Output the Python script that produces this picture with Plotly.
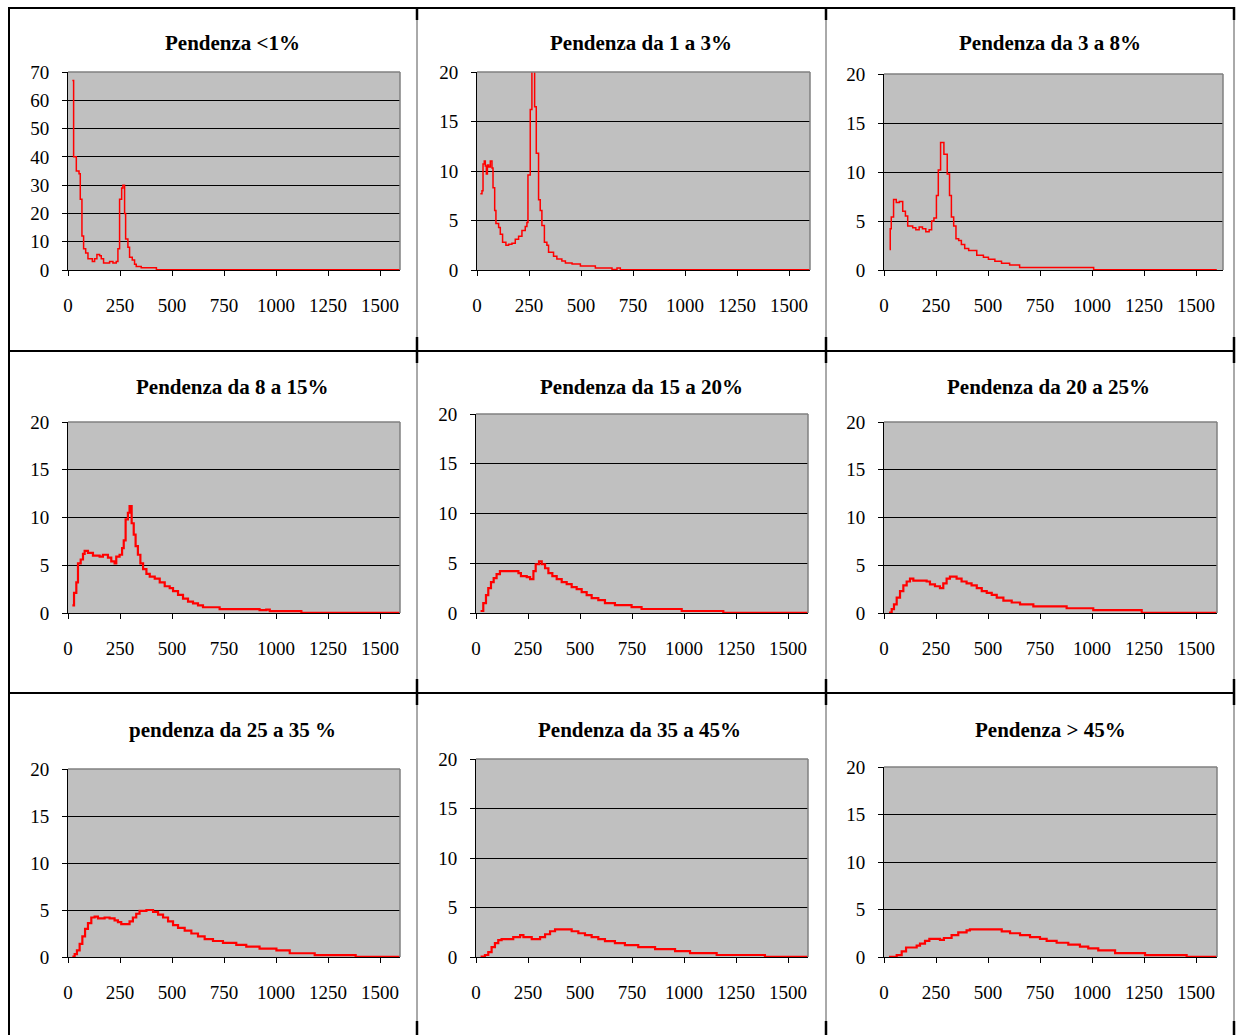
import plotly.graph_objects as go

# ---------------- data ----------------
titles = ["Pendenza <1%", "Pendenza da 1 a 3%", "Pendenza da 3 a 8%",
          "Pendenza da 8 a 15%", "Pendenza da 15 a 20%", "Pendenza da 20 a 25%",
          "pendenza da 25 a 35 %", "Pendenza da 35 a 45%", "Pendenza > 45%"]

x_ticks = [0, 250, 500, 750, 1000, 1250, 1500]

p1_x = [21, 27, 40, 53, 59, 67, 75, 85, 96, 117, 128, 139, 152, 160, 171, 192, 200, 216, 232, 240,
        248, 258, 264, 272, 277, 288, 296, 309, 320, 328, 352, 425, 1600]
p1_y = [67, 40, 35, 34, 25, 12, 7.5, 6, 4, 3, 4, 5.5, 5, 4, 2.5, 2.5, 3, 2.5, 3, 7.5,
        25, 29, 30, 20, 11, 8, 4.5, 3.5, 2, 1.2, 0.8, 0.1, 0.1]

p2_x = [16, 24, 29, 35, 40, 45, 50, 56, 64, 72, 77, 85, 91, 104, 112, 123, 139, 152, 168, 184,
        200, 216, 232, 240, 245, 256, 264, 277, 285, 296, 304, 312, 324, 336, 344, 368, 384, 408,
        425, 457, 497, 569, 649, 673, 689, 1600]
p2_y = [7.7, 8, 10.7, 11, 10.5, 9.7, 10.6, 10.4, 11, 10.3, 8.3, 6, 4.7, 4.3, 3.6, 2.8, 2.5, 2.6,
        2.7, 3.1, 3.4, 4.0, 4.4, 4.8, 9.6, 16.2, 24, 16.5, 11.8, 7.1, 6, 4.5, 2.8, 2.5, 1.8, 1.4,
        1.1, 0.9, 0.7, 0.6, 0.4, 0.2, 0.05, 0.2, 0.02, 0.02]

p3_x = [27, 30, 35, 46, 59, 74, 90, 103, 114, 125, 138, 153, 169, 185, 201, 217, 229, 240, 252,
        261, 272, 288, 304, 315, 324, 335, 346, 359, 372, 388, 407, 446, 478, 502, 533, 565, 604,
        652, 1008, 1600]
p3_y = [2.1, 4.2, 5.4, 7.2, 6.9, 7.0, 6.0, 5.5, 4.5, 4.5, 4.3, 4.1, 4.4, 4.2, 3.9, 4.1, 5.0, 5.3,
        7.6, 10.2, 13.0, 11.8, 9.8, 7.6, 5.4, 4.5, 3.2, 3.0, 2.6, 2.2, 2.0, 1.5, 1.3, 1.1, 0.9,
        0.7, 0.5, 0.25, 0.02, 0.02]

p4_x = [21, 29, 40, 48, 61, 72, 80, 96, 120, 152, 168, 192, 208, 224, 232, 248, 260, 268, 277,
        288, 296, 306, 316, 325, 336, 348, 361, 377, 393, 417, 441, 465, 489, 505, 529, 553, 577,
        601, 625, 649, 729, 921, 953, 970, 1122, 1600]
p4_y = [0.8, 2.1, 3.2, 5.2, 5.6, 6.2, 6.5, 6.3, 6.0, 5.9, 6.1, 5.8, 5.4, 5.2, 5.9, 6.1, 6.8, 7.6,
        9.8, 10.5, 11.2, 9.4, 8.2, 7.0, 6.1, 5.2, 4.6, 4.1, 3.8, 3.6, 3.2, 2.8, 2.6, 2.3, 1.9, 1.5,
        1.2, 1.0, 0.8, 0.6, 0.4, 0.3, 0.35, 0.2, 0.02, 0.02]

p5_x = [22, 35, 48, 59, 72, 85, 99, 115, 204, 216, 244, 260, 276, 287, 303, 316, 332, 348, 367,
        388, 412, 436, 460, 484, 508, 532, 556, 588, 620, 668, 748, 796, 989, 1189, 1600]
p5_y = [0.2, 1.0, 1.8, 2.5, 3.1, 3.5, 3.9, 4.2, 4.0, 3.7, 3.6, 3.4, 4.2, 4.9, 5.2, 4.9, 4.5, 4.0,
        3.7, 3.4, 3.1, 2.9, 2.6, 2.4, 2.1, 1.8, 1.5, 1.3, 1.0, 0.8, 0.6, 0.4, 0.2, 0.02, 0.02]

p6_x = [24, 37, 48, 61, 77, 93, 109, 125, 141, 205, 221, 245, 269, 285, 301, 317, 349, 373, 397,
        421, 446, 470, 494, 518, 542, 574, 614, 654, 718, 878, 1006, 1239, 1600]
p6_y = [0.05, 0.4, 0.9, 1.6, 2.3, 2.9, 3.3, 3.6, 3.4, 3.3, 3.0, 2.8, 2.6, 3.1, 3.6, 3.8, 3.6, 3.3,
        3.1, 2.9, 2.6, 2.3, 2.1, 1.9, 1.6, 1.3, 1.1, 0.9, 0.7, 0.5, 0.3, 0.02, 0.02]

p7_x = [21, 32, 43, 56, 69, 82, 96, 112, 128, 144, 176, 200, 224, 240, 256, 280, 296, 312, 328,
        344, 377, 409, 433, 457, 481, 505, 529, 561, 593, 625, 657, 697, 745, 809, 857, 921, 1002,
        1066, 1186, 1383, 1600]
p7_y = [0.05, 0.3, 0.7, 1.4, 2.2, 3.0, 3.6, 4.2, 4.3, 4.1, 4.2, 4.1, 3.9, 3.7, 3.5, 3.5, 3.8, 4.2,
        4.6, 4.9, 5.0, 4.8, 4.5, 4.2, 3.8, 3.4, 3.1, 2.8, 2.5, 2.2, 1.9, 1.7, 1.5, 1.3, 1.1, 0.9,
        0.7, 0.4, 0.2, 0.02, 0.02]

p8_x = [22, 43, 59, 75, 91, 107, 123, 179, 212, 228, 268, 308, 332, 356, 380, 460, 492, 524, 556,
        588, 620, 668, 716, 780, 861, 957, 1029, 1157, 1389, 1600]
p8_y = [0.05, 0.2, 0.5, 1.0, 1.4, 1.7, 1.8, 2.0, 2.2, 2.0, 1.8, 2.0, 2.3, 2.6, 2.8, 2.6, 2.4, 2.2,
        2.0, 1.8, 1.6, 1.4, 1.2, 1.0, 0.8, 0.6, 0.4, 0.2, 0.02, 0.02]

p9_x = [24, 61, 85, 106, 157, 173, 197, 218, 269, 288, 325, 357, 397, 413, 566, 606, 654, 702, 750,
        782, 830, 886, 942, 982, 1030, 1111, 1255, 1455, 1600]
p9_y = [0.02, 0.2, 0.6, 1.0, 1.2, 1.4, 1.7, 1.9, 1.8, 2.0, 2.3, 2.6, 2.8, 2.9, 2.7, 2.5, 2.3, 2.1,
        1.9, 1.7, 1.5, 1.3, 1.1, 0.9, 0.7, 0.4, 0.2, 0.02, 0.02]

series_x = [p1_x, p2_x, p3_x, p4_x, p5_x, p6_x, p7_x, p8_x, p9_x]
series_y = [p1_y, p2_y, p3_y, p4_y, p5_y, p6_y, p7_y, p8_y, p9_y]
y_max = [70, 20, 20, 20, 20, 20, 20, 20, 20]
y_step = [10, 5, 5, 5, 5, 5, 5, 5, 5]

# ---------------- layout (pixels) ----------------
W, H = 1241, 1035
# plot areas: left, right, top, bottom
boxes = [(68, 400, 72, 270), (477, 810, 72, 270), (884, 1223, 74, 270),
         (68, 400, 422, 613), (476, 808, 414, 613), (884, 1217, 422, 613),
         (68, 400, 769, 957), (476, 808, 759, 957), (884, 1217, 767, 957)]
title_pos = [(232, 43), (641, 43), (1050, 43),
             (232, 387), (641, 387), (1048, 387),
             (232, 730), (640, 730), (1050, 730)]

FONT = "Liberation Serif, Times New Roman, serif"
fig = go.Figure()
shapes = []
annotations = []

def px(x):
    return x / W

def py(y):
    return 1 - y / H

for i in range(9):
    l, r, t, b = boxes[i]
    xa = "xaxis" if i == 0 else f"xaxis{i+1}"
    ya = "yaxis" if i == 0 else f"yaxis{i+1}"
    xr = "x" if i == 0 else f"x{i+1}"
    yr = "y" if i == 0 else f"y{i+1}"
    lw = 1.5 if i < 3 else 2.2
    fig.add_trace(go.Scatter(x=series_x[i], y=series_y[i], mode="lines",
                             line=dict(color="#FF0000", width=lw, shape="hv"),
                             xaxis=xr, yaxis=yr, showlegend=False, hoverinfo="skip"))
    # scale: 1500 sits ~312px right of 0
    xmax = (r - l) / (312 / 1500)
    fig.layout[xa] = dict(domain=[px(l), px(r)], anchor=yr, range=[0, xmax],
                          tickmode="array", tickvals=x_ticks, ticktext=[str(v) for v in x_ticks],
                          showgrid=False, zeroline=False, showline=True, linecolor="black",
                          linewidth=1, ticks="outside", ticklen=5, tickcolor="black",
                          tickfont=dict(family=FONT, size=19, color="black"),
                          ticklabelstandoff=13, layer="below traces", fixedrange=True,
                          automargin=False)
    fig.layout[ya] = dict(domain=[py(b), py(t)], anchor=xr, range=[0, y_max[i]],
                          tickmode="linear", tick0=0, dtick=y_step[i],
                          showgrid=True, gridcolor="black", gridwidth=1, zeroline=False,
                          showline=True, linecolor="black", linewidth=1,
                          ticks="outside", ticklen=5, tickcolor="black",
                          tickfont=dict(family=FONT, size=19, color="black"),
                          ticklabelstandoff=9, layer="below traces", fixedrange=True,
                          automargin=False)
    # grey frame on top and right of plot area
    shapes.append(dict(type="line", xref="paper", yref="paper", x0=px(l), x1=px(r),
                       y0=py(t), y1=py(t), line=dict(color="#808080", width=1.5), layer="above"))
    shapes.append(dict(type="line", xref="paper", yref="paper", x0=px(r), x1=px(r),
                       y0=py(b), y1=py(t), line=dict(color="#808080", width=1.5), layer="above"))
    tx, ty = title_pos[i]
    annotations.append(dict(text="<b>" + titles[i] + "</b>", xref="paper", yref="paper",
                            x=px(tx), y=py(ty), xanchor="center", yanchor="middle",
                            showarrow=False, font=dict(family=FONT, size=21, color="black")))

# table borders
h_lines = [8, 351, 693]
v_inner = [417, 826, 1234]
for yy in h_lines:
    shapes.append(dict(type="line", xref="paper", yref="paper", x0=px(9), x1=px(1235),
                       y0=py(yy), y1=py(yy), line=dict(color="black", width=2)))
shapes.append(dict(type="line", xref="paper", yref="paper", x0=px(9), x1=px(9),
                   y0=py(7), y1=py(1035), line=dict(color="black", width=2)))
for xx in v_inner:
    shapes.append(dict(type="line", xref="paper", yref="paper", x0=px(xx), x1=px(xx),
                       y0=py(7), y1=py(1035), line=dict(color="#555555", width=1)))
    for yy in h_lines + [1035]:
        shapes.append(dict(type="line", xref="paper", yref="paper", x0=px(xx), x1=px(xx),
                           y0=py(max(yy - 14, 7)), y1=py(min(yy + 12, 1035)),
                           line=dict(color="black", width=2.5)))

fig.update_layout(width=W, height=H, autosize=False,
                  margin=dict(l=0, r=0, t=0, b=0, pad=0, autoexpand=False),
                  paper_bgcolor="white", plot_bgcolor="#C0C0C0",
                  shapes=shapes, annotations=annotations, showlegend=False)

fig.write_html("out.html",
               post_script="document.body.style.margin='0';document.body.style.overflow='hidden';")
